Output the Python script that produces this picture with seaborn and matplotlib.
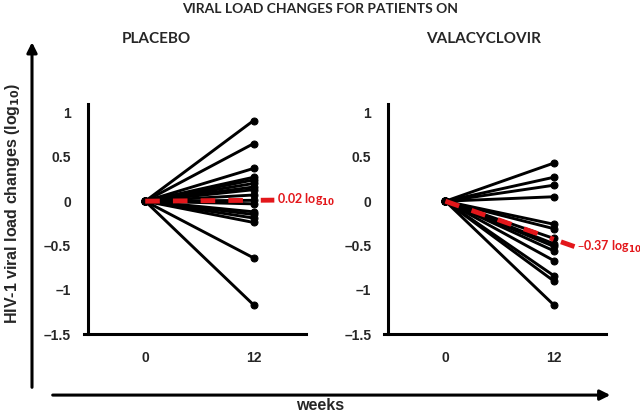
import numpy as np
import pandas as pd
import matplotlib
matplotlib.use("Agg")
import matplotlib.pyplot as plt
import seaborn as sns

# ─── Data ─────────────────────────────────────────────────────────────────────
WEEKS = [0, 12]
PLACEBO_WK12 = [0.91, 0.65, 0.37, 0.27, 0.24, 0.20, 0.16, 0.13, 0.07, 0.01,
                -0.03, -0.12, -0.15, -0.19, -0.24, -0.64, -1.17]
VALACYCLOVIR_WK12 = [0.43, 0.27, 0.18, 0.05, -0.26, -0.31, -0.42, -0.48,
                     -0.51, -0.56, -0.67, -0.84, -0.90, -1.17]
MEAN_LINE_END = {"PLACEBO": 0.01, "VALACYCLOVIR": -0.43}
MEAN_LABEL = {"PLACEBO": "0.02 log$_{10}$", "VALACYCLOVIR": "\u20130.37 log$_{10}$"}
Y_TICKS = [-1.5, -1, -0.5, 0, 0.5, 1]
Y_TICK_LABELS = ["\u20131.5", "\u20131", "\u20130.5", "0", "0.5", "1"]

RED = "#e3171b"
TEXT_FONT = ["Lato", "DejaVu Sans"]


def long_frame(values):
    rows = []
    for pid, v in enumerate(values):
        rows.append({"patient": pid, "week": WEEKS[0], "change": 0.0})
        rows.append({"patient": pid, "week": WEEKS[1], "change": v})
    return pd.DataFrame(rows)


sns.set_style("white")
plt.rcParams["font.family"] = ["Liberation Sans", "DejaVu Sans"]
plt.rcParams["font.weight"] = "bold"
plt.rcParams["mathtext.default"] = "bf"

fig = plt.figure(figsize=(6.4, 4.15), dpi=100)
ax_l = fig.add_axes([0.131, 0.195, 0.347, 0.555])
ax_r = fig.add_axes([0.600, 0.195, 0.347, 0.555])

panels = [(ax_l, "PLACEBO", PLACEBO_WK12, 0.245),
          (ax_r, "VALACYCLOVIR", VALACYCLOVIR_WK12, 0.755)]

for ax, name, vals, title_x in panels:
    df = long_frame(vals)
    sns.lineplot(data=df, x="week", y="change", units="patient", estimator=None,
                 color="black", lw=2.1, marker="o", markersize=5,
                 markeredgecolor="black", ax=ax)

    mean_df = pd.DataFrame({"week": WEEKS, "change": [0.0, MEAN_LINE_END[name]]})
    sns.lineplot(data=mean_df, x="week", y="change", color=RED, lw=3.5,
                 dashes=False, ax=ax, zorder=5)
    ax.lines[-1].set_linestyle((0, (3, 2.7)))

    # short red dash in front of the label, continuing the mean line
    slope = MEAN_LINE_END[name] / WEEKS[1]
    x0, x1 = 12.8, 14.3
    ax.plot([x0, x1], [slope * x0, slope * x1], color=RED, lw=3.5,
            solid_capstyle="butt", clip_on=False)
    ax.text(14.55, slope * 14.55, MEAN_LABEL[name], color=RED, fontsize=9,
            fontweight="bold", family=TEXT_FONT, va="center", ha="left",
            clip_on=False)

    ax.set_xlim(-6.8, 17.8)
    ax.set_ylim(-1.5, 1.1)
    ax.set_xticks(WEEKS)
    ax.set_xticklabels([str(w) for w in WEEKS])
    ax.set_yticks(Y_TICKS)
    ax.set_yticklabels(Y_TICK_LABELS)
    ax.set_xlabel("")
    ax.set_ylabel("")
    ax.tick_params(axis="both", direction="out", length=5, width=2,
                   labelsize=10, pad=7, color="black")
    for lab in ax.get_xticklabels() + ax.get_yticklabels():
        lab.set_fontweight("bold")
    for side in ["top", "right"]:
        ax.spines[side].set_visible(False)
    for side in ["left", "bottom"]:
        ax.spines[side].set_linewidth(2.2)
        ax.spines[side].set_color("black")
    ax.spines["left"].set_position(("axes", 0.018))

    fig.text(title_x, 0.905, name, ha="center", va="center", fontsize=11,
             fontweight="bold", family=TEXT_FONT)

fig.text(0.5, 0.978, "VIRAL LOAD CHANGES FOR PATIENTS ON", ha="center",
         va="center", fontsize=10, fontweight="bold", family=TEXT_FONT)

# big axis arrows
fig.add_artist(matplotlib.patches.FancyArrowPatch(
    (0.05, 0.06), (0.05, 0.905), transform=fig.transFigure,
    arrowstyle="-|>,head_length=6,head_width=3", lw=2.2, color="black",
    mutation_scale=1))
fig.add_artist(matplotlib.patches.FancyArrowPatch(
    (0.078, 0.048), (0.958, 0.048), transform=fig.transFigure,
    arrowstyle="-|>,head_length=6,head_width=3", lw=2.2, color="black",
    mutation_scale=1))
fig.text(0.02, 0.51, "HIV-1 viral load changes (log$_{10}$)", rotation=90,
         ha="center", va="center", fontsize=11.5, fontweight="bold")
fig.text(0.5, 0.022, "weeks", ha="center", va="center", fontsize=11.5,
         fontweight="bold")

fig.savefig("out.png", dpi=100)
